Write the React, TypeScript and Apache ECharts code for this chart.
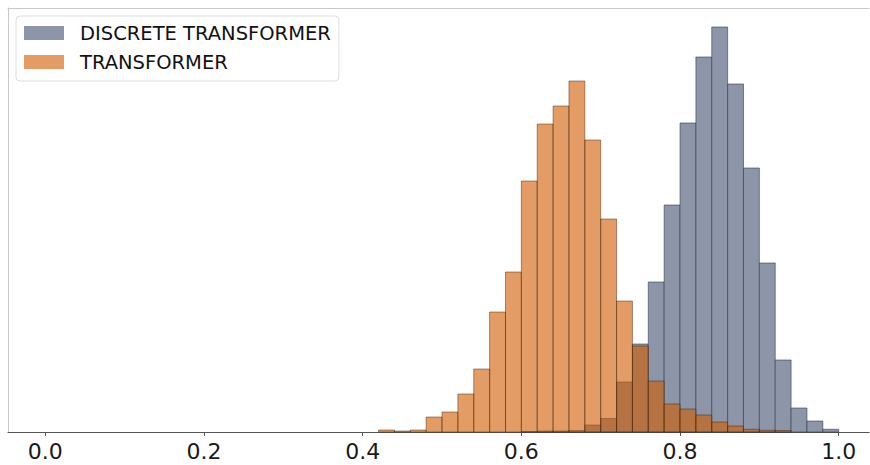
import React, { useEffect, useRef } from "react";
import * as echarts from "echarts";

// bin left edges (width 0.02)
const binStarts = [
  0.42, 0.44, 0.46, 0.48, 0.5, 0.52, 0.54, 0.56, 0.58, 0.6, 0.62, 0.64, 0.66, 0.68,
  0.7, 0.72, 0.74, 0.76, 0.78, 0.8, 0.82, 0.84, 0.86, 0.88, 0.9, 0.92, 0.94, 0.96, 0.98,
];
const binWidth = 0.02;

// counts (arbitrary units)
const transformerCounts = [
  2, 1, 2, 15, 20, 38, 63, 120, 160, 251, 308, 326, 351, 292,
  213, 131, 86, 51, 28, 23, 17, 10, 6, 2.7, 1.7, 1.5, 0, 0, 0,
];
const discreteCounts = [
  0, 0, 0, 0, 0, 0, 0, 0, 0, 0.5, 1, 1, 1.5, 7,
  13.5, 50, 88, 150, 227, 309, 375, 405, 348, 264, 169, 72, 24, 11, 2.7,
];

const xTicks = [0.0, 0.2, 0.4, 0.6, 0.8, 1.0];
const seriesNames = ["DISCRETE TRANSFORMER", "TRANSFORMER"];

const FONT = "DejaVu Sans";

function histSeries(name: string, counts: number[], fill: string, stroke: string, z: number) {
  const data = binStarts.map((s, i) => [s, s + binWidth, counts[i]]);
  return {
    type: "custom",
    name,
    z,
    itemStyle: { color: fill },
    encode: { x: [0, 1], y: 2 },
    data,
    renderItem: (params: any, api: any) => {
      const x0 = api.value(0);
      const x1 = api.value(1);
      const h = api.value(2);
      if (!h) return null;
      const p0 = api.coord([x0, h]);
      const p1 = api.coord([x1, 0]);
      return {
        type: "rect",
        shape: { x: p0[0], y: p0[1], width: p1[0] - p0[0], height: p1[1] - p0[1] },
        style: { fill, stroke, lineWidth: 1 },
      };
    },
  };
}

export default function App() {
  const ref = useRef<HTMLDivElement>(null);
  useEffect(() => {
    if (!ref.current) return;
    const chart = echarts.init(ref.current, null, { renderer: "svg" });
    chart.setOption({
      animation: false,
      backgroundColor: "#ffffff",
      grid: { left: 8, right: 1, top: 8, bottom: 33, containLabel: false },
      xAxis: [
        {
          type: "value",
          min: -0.0471,
          max: 1.0382,
          position: "bottom",
          splitLine: { show: false },
          axisLine: { show: true, onZero: false, lineStyle: { color: "#555555", width: 1.2 } },
          axisTick: { show: true, length: 4, lineStyle: { color: "#555555" }, customValues: xTicks },
          axisLabel: {
            show: true,
            customValues: xTicks,
            formatter: (v: number) => v.toFixed(1),
            fontFamily: FONT,
            fontSize: 22,
            color: "#1a1a1a",
            margin: 8,
          },
        },
        {
          type: "value",
          min: -0.0471,
          max: 1.0382,
          position: "top",
          splitLine: { show: false },
          axisLine: { show: true, onZero: false, lineStyle: { color: "#c8c8c8", width: 1 } },
          axisTick: { show: false },
          axisLabel: { show: false },
        },
      ],
      yAxis: {
        type: "value",
        min: 0,
        max: 424,
        position: "left",
        splitLine: { show: false },
        axisLine: { show: true, onZero: false, lineStyle: { color: "#c8c8c8", width: 1 } },
        axisTick: { show: false },
        axisLabel: { show: false },
      },
      legend: {
        left: 16,
        top: 16,
        orient: "vertical",
        padding: [7, 8, 9, 8],
        itemWidth: 40,
        itemHeight: 14,
        itemGap: 9,
        borderColor: "#dddddd",
        borderWidth: 1,
        borderRadius: 4,
        backgroundColor: "rgba(255,255,255,0.8)",
        icon: "rect",
        textStyle: { fontFamily: FONT, fontSize: 19.5, color: "#111111", padding: [0, 0, 0, 11] },
        data: seriesNames,
      },
      series: [
        histSeries(seriesNames[0], discreteCounts, "#8c96a8", "rgba(45,50,65,0.55)", 2),
        histSeries(seriesNames[1], transformerCounts, "rgba(208,90,0,0.6)", "rgba(60,30,0,0.45)", 3),
      ],
    });
    return () => chart.dispose();
  }, []);
  return <div ref={ref} style={{ width: 870, height: 465, position: "absolute", left: 0, top: 0 }} />;
}
